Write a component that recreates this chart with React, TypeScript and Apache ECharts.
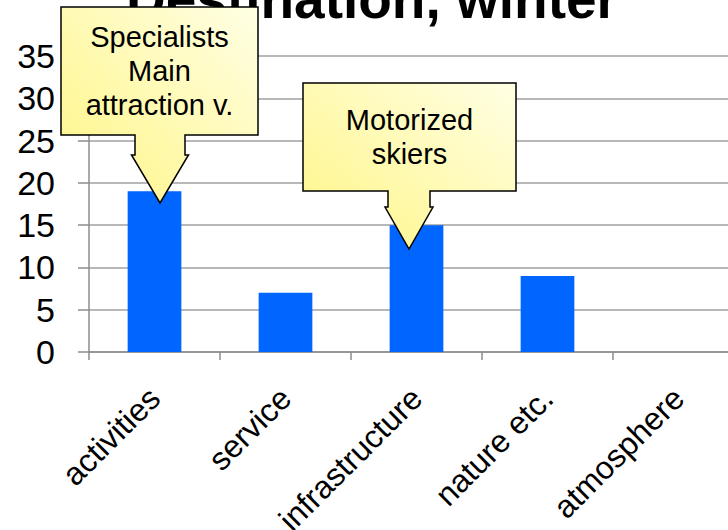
import React, { useEffect, useRef } from 'react';
import * as echarts from 'echarts';

const categories = ['activities', 'service', 'infrastructure', 'nature etc.', 'atmosphere'];
const values = [19, 7, 15, 9, 0];
const yMin = 0;
const yMax = 35;
const yInterval = 5;
const titleText = 'Destination, winter';
const callout1Text = ['Specialists', 'Main', 'attraction v.'];
const callout2Text = ['Motorized', 'skiers'];

const FONT = '"Liberation Sans", Arial, sans-serif';

type Callout = {
  x0: number; y0: number; x1: number; y1: number;
  stemL: number; stemR: number; headY: number; headL: number; headR: number;
  tipX: number; tipY: number; lines: string[];
};

const callouts: Callout[] = [
  { x0: 61, y0: 7, x1: 258, y1: 135, stemL: 135, stemR: 185, headY: 155, headL: 131.5, headR: 188.5, tipX: 160, tipY: 203, lines: callout1Text },
  { x0: 303, y0: 83, x1: 516, y1: 191, stemL: 388, stemR: 430, headY: 207, headL: 385, headR: 433, tipX: 409, tipY: 249, lines: callout2Text },
];

function calloutGraphics(c: Callout, i: number) {
  const pts = [
    [c.x0, c.y0], [c.x1, c.y0], [c.x1, c.y1], [c.stemR, c.y1], [c.stemR, c.headY],
    [c.headR, c.headY], [c.tipX, c.tipY], [c.headL, c.headY], [c.stemL, c.headY],
    [c.stemL, c.y1], [c.x0, c.y1],
  ];
  return [
    {
      type: 'polygon',
      id: 'callout-shape-' + i,
      z: 100,
      shape: { points: pts },
      style: {
        fill: new echarts.graphic.LinearGradient(0, 1, 1, 0, [
          { offset: 0, color: '#fff584' },
          { offset: 1, color: '#ffffe4' },
        ]),
        stroke: '#000',
        lineWidth: 1.5,
      },
    },
    {
      type: 'text',
      id: 'callout-text-' + i,
      z: 101,
      style: {
        x: (c.x0 + c.x1) / 2,
        y: (c.y0 + c.y1) / 2,
        text: c.lines.join('\n'),
        align: 'center',
        verticalAlign: 'middle',
        font: `29px ${FONT}`,
        lineHeight: 34,
        fill: '#000',
      },
    },
  ];
}

export default function App() {
  const ref = useRef<HTMLDivElement>(null);
  useEffect(() => {
    if (!ref.current) return;
    const chart = echarts.init(ref.current, null, { renderer: 'svg' });
    chart.setOption({
      animation: false,
      grid: {
        left: 89, top: 56, width: 655, bottom: 178,
        containLabel: false, outerBoundsMode: 'none',
      },
      xAxis: {
        type: 'category',
        data: categories,
        axisLine: { show: true, lineStyle: { color: '#8c8c8c', width: 1.5 } },
        axisTick: { show: true, length: 8, lineStyle: { color: '#8c8c8c', width: 1.5 } },
        axisLabel: {
          rotate: 45,
          interval: 0,
          margin: 41,
          verticalAlign: 'middle',
          color: '#000',
          fontSize: 32,
          fontFamily: FONT,
          hideOverlap: false,
        },
        splitLine: { show: false },
      },
      yAxis: {
        type: 'value',
        min: yMin,
        max: yMax,
        interval: yInterval,
        axisLine: { show: true, lineStyle: { color: '#8c8c8c', width: 1.5 } },
        axisTick: { show: true, length: 11, lineStyle: { color: '#8c8c8c', width: 1.5 } },
        axisLabel: { color: '#000', fontSize: 34, fontFamily: FONT, margin: 34 },
        splitLine: { show: true, lineStyle: { color: '#a0a0a0', width: 1.5 } },
      },
      series: [
        {
          type: 'bar',
          data: values,
          barWidth: '41%',
          itemStyle: { color: '#0066ff' },
        },
      ],
      graphic: [
        {
          type: 'text',
          id: 'title',
          z: 50,
          style: {
            x: 372,
            y: -29,
            text: titleText,
            align: 'center',
            verticalAlign: 'top',
            font: `bold 55px ${FONT}`,
            fill: '#000',
          },
        },
        ...callouts.flatMap((c, i) => calloutGraphics(c, i)),
      ],
    });
    return () => chart.dispose();
  }, []);
  return (
    <div
      ref={ref}
      style={{ position: 'fixed', left: 0, top: 0, width: 728, height: 530, background: '#fff' }}
    />
  );
}
